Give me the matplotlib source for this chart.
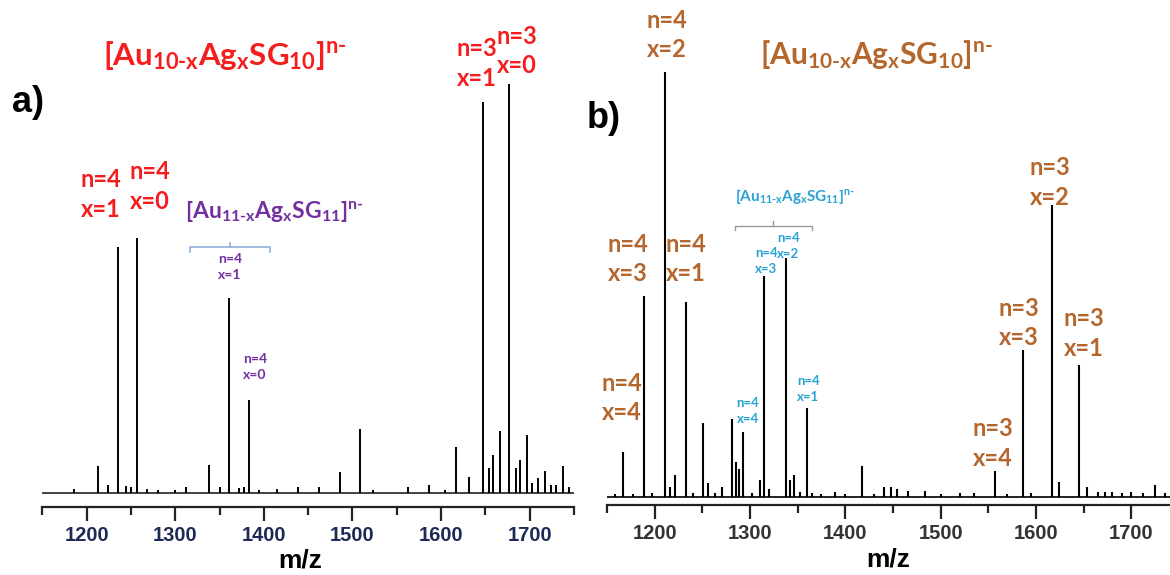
import matplotlib
matplotlib.use("Agg")
import matplotlib.pyplot as plt
from matplotlib.ticker import MultipleLocator

plt.rcParams['font.family'] = ['Lato', 'DejaVu Sans']
plt.rcParams['mathtext.fontset'] = 'custom'
plt.rcParams['mathtext.rm'] = 'Lato:bold'
plt.rcParams['mathtext.bf'] = 'Lato:bold'
plt.rcParams['mathtext.default'] = 'bf'

# spectrum a) : peak m/z and relative intensity (%)
mz_a = [1186, 1213, 1224, 1235.5, 1245, 1250, 1257, 1268, 1280, 1300, 1312, 1338, 1350,
        1361, 1372, 1378, 1383, 1395, 1415, 1438, 1462, 1486, 1509, 1523, 1563, 1586,
        1604, 1616.5, 1631, 1647.5, 1654, 1659, 1667, 1676.5, 1684, 1688.5, 1697, 1703,
        1709, 1717, 1724, 1730, 1738, 1744]
int_a = [1.0, 6.6, 2.0, 60.1, 1.7, 1.5, 62.3, 1.0, 0.7, 0.7, 1.5, 6.8, 1.5,
         47.7, 1.2, 1.5, 22.7, 0.7, 1.0, 1.5, 1.5, 5.1, 15.6, 0.7, 1.5, 2.0,
         0.7, 11.2, 3.9, 95.6, 6.1, 9.3, 15.2, 100, 6.1, 8.1, 14.2, 2.4,
         3.7, 5.4, 2.0, 2.0, 6.6, 1.5]

# spectrum b)
mz_b = [1158, 1166.7, 1177, 1188.4, 1197, 1210.5, 1216, 1221, 1233, 1240, 1250.6, 1255.5,
        1263, 1270.5, 1280.8, 1285.8, 1288, 1292.6, 1302, 1310.5, 1315.2, 1320, 1337.3,
        1342, 1346, 1352, 1359.4, 1365, 1374, 1389, 1400, 1418, 1430, 1441, 1448, 1454,
        1466, 1484, 1500, 1520, 1535, 1556.6, 1570, 1586.4, 1595, 1617, 1624, 1645.6,
        1654, 1665, 1672, 1680, 1690, 1700, 1712, 1724.5, 1735]
int_b = [0.7, 10.6, 0.7, 47.3, 0.9, 100, 2.4, 5.2, 45.9, 0.9, 17.4, 3.3,
         0.9, 2.4, 18.4, 8.2, 6.6, 15.3, 0.9, 4.0, 52.0, 1.9, 56.2,
         4.0, 5.2, 1.2, 20.9, 0.9, 0.7, 1.2, 0.7, 7.3, 0.7, 2.4, 2.4, 1.9,
         1.4, 1.4, 0.7, 0.9, 0.9, 6.1, 0.7, 34.6, 0.9, 68.7, 3.5, 31.1,
         2.4, 1.2, 1.2, 1.2, 0.9, 1.2, 0.9, 2.8, 0.9]

tick_vals = [1200, 1300, 1400, 1500, 1600, 1700]
tick_labels = ['1200', '1300', '1400', '1500', '1600', '1700']

# peak labels: (text, m/z, intensity)
labels_a = [("n=4\nx=1", 1216, 73), ("n=4\nx=0", 1271, 75),
            ("n=3\nx=1", 1640, 105), ("n=3\nx=0", 1685, 108)]
labels_a11 = [("n=4\nx=1", 1361.5, 55.3), ("n=4\nx=0", 1390, 30.8)]
labels_b = [("n=4\nx=2", 1213, 108.7), ("n=4\nx=3", 1172, 56), ("n=4\nx=1", 1233, 56),
            ("n=4\nx=4", 1166, 23.3), ("n=3\nx=2", 1615, 73.9), ("n=3\nx=3", 1582, 40.9),
            ("n=3\nx=1", 1650.5, 38.4), ("n=3\nx=4", 1555, 12.5)]
labels_b11 = [("n=4\nx=3", 1317, 55.5), ("n=4\nx=2", 1340, 59.1),
              ("n=4\nx=4", 1298, 20.2), ("n=4\nx=1", 1361, 25.4)]

title10 = r'[Au$_{10\text{-}x}$Ag$_{x}$SG$_{10}$]$^{n\text{-}}$'
title11 = r'[Au$_{11\text{-}x}$Ag$_{x}$SG$_{11}$]$^{n\text{-}}$'

RED = '#f51d1d'
PURPLE = '#7230a0'
BROWN = '#b4662c'
BLUE = '#2aa2d4'
BRACKET = '#8fb0dc'

W, H = 1170, 575
fig = plt.figure(figsize=(W / 100, H / 100), dpi=100)
ax_a = fig.add_axes([42.3 / W, (H - 507) / H, (574 - 42.3) / W, 507 / H])
ax_b = fig.add_axes([607 / W, (H - 505) / H, (1179 - 607) / W, 505 / H])


def style_axis(ax, ymin, ymax, tick_color, label_x, label_y):
    ax.set_xlim(1150, 1750)
    ax.set_ylim(ymin, ymax)
    for s in ['left', 'right', 'top']:
        ax.spines[s].set_visible(False)
    ax.spines['bottom'].set_linewidth(1.6)
    ax.spines['bottom'].set_color('#222222')
    ax.set_yticks([])
    ax.set_xticks(tick_vals)
    ax.set_xticklabels(tick_labels, fontsize=14.5, fontweight='bold', color=tick_color,
                       family=['Liberation Sans Narrow', 'Liberation Sans', 'DejaVu Sans'])
    ax.xaxis.set_minor_locator(MultipleLocator(50))
    ax.tick_params(axis='x', which='major', length=10, width=1.6, color='#222222', pad=4)
    ax.tick_params(axis='x', which='minor', length=6, width=1.6, color='#222222')
    ax.set_xlabel('m/z', fontsize=19, fontweight='bold', family=['Liberation Sans', 'DejaVu Sans'])
    ax.xaxis.set_label_coords(label_x, label_y)
    ax.patch.set_alpha(0)


# panel a
ax_a.axhline(0, color='#333333', lw=1.3)
ax_a.vlines(mz_a, 0, int_a, color='black', lw=1.4)
style_axis(ax_a, -3.4, 120.5, '#1d2a55', 0.485, -0.081)
ax_a.text(1356, 107, title10, color=RED, fontsize=22.5, fontweight='bold', ha='center', va='center')
for txt, x, y in labels_a:
    ax_a.text(x, y, txt, color=RED, fontsize=17, fontweight='bold', ha='center', va='center',
              linespacing=1.35)
ax_a.text(1412, 68.7, title11, color=PURPLE, fontsize=16.5, fontweight='bold', ha='center', va='center')
ax_a.plot([1316.6, 1316.6, 1406.8, 1406.8], [58.9, 60.1, 60.1, 58.9], color=BRACKET, lw=1.2)
ax_a.plot([1361.5, 1361.5], [60.1, 61.1], color=BRACKET, lw=1.2)
for txt, x, y in labels_a11:
    ax_a.text(x, y, txt, color=PURPLE, fontsize=10, fontweight='bold', ha='center', va='center',
              linespacing=1.4)

# panel b
ax_b.axhline(0, color='#222222', lw=1.4)
ax_b.vlines(mz_b, 0, int_b, color='black', lw=1.5)
style_axis(ax_b, -1.9, 116.9, '#333333', 0.491, -0.085)
ax_b.text(1433, 104, title10, color=BROWN, fontsize=21.5, fontweight='bold', ha='center', va='center')
for txt, x, y in labels_b:
    ax_b.text(x, y, txt, color=BROWN, fontsize=17, fontweight='bold', ha='center', va='center',
              linespacing=1.35)
ax_b.text(1347, 70.6, title11, color=BLUE, fontsize=11, fontweight='bold', ha='center', va='center')
ax_b.plot([1284.3, 1284.3, 1365.1, 1365.1], [62.8, 63.8, 63.8, 62.8], color='#999999', lw=1.0)
ax_b.plot([1324.2, 1324.2], [63.8, 64.8], color='#999999', lw=1.0)
for txt, x, y in labels_b11:
    ax_b.text(x, y, txt, color=BLUE, fontsize=9.5, fontweight='bold', ha='center', va='center',
              linespacing=1.4)

fig.text(28 / W, 1 - 103 / H, 'a)', fontsize=26, fontweight='bold', ha='center', va='center',
         family=['Liberation Sans', 'DejaVu Sans'])
fig.text(604 / W, 1 - 118 / H, 'b)', fontsize=26, fontweight='bold', ha='center', va='center',
         family=['Liberation Sans', 'DejaVu Sans'])

fig.savefig('out.png', dpi=100)
